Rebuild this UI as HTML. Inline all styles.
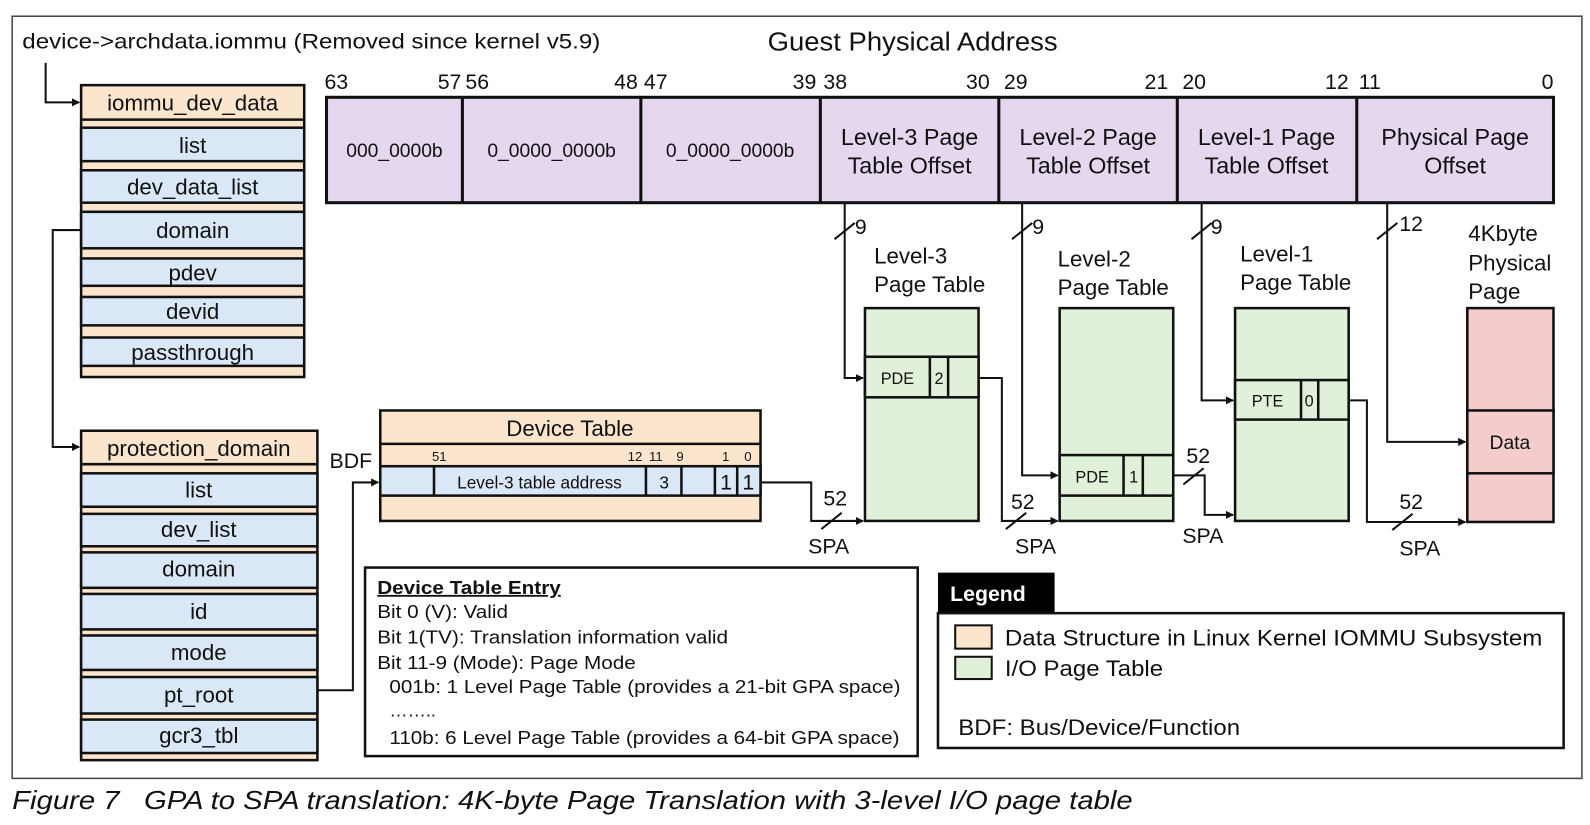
<!DOCTYPE html>
<html><head><meta charset="utf-8"><style>
html,body{margin:0;padding:0;background:#fff;}
svg{display:block;}
text{font-family:"Liberation Sans",Arial,sans-serif;fill:#111;}
</style></head><body>
<svg width="1590" height="825" viewBox="0 0 1568 814" preserveAspectRatio="none" xmlns="http://www.w3.org/2000/svg">
<defs>
<marker id="ar" markerWidth="8" markerHeight="8" refX="7" refY="4" orient="auto" markerUnits="userSpaceOnUse"><path d="M0,0 L8,4 L0,8 z" fill="#111"/></marker>
</defs>
<rect x="12" y="16" width="1548" height="752" fill="none" stroke="#444" stroke-width="1.5"/>
<text x="22" y="48" font-size="21" textLength="570" lengthAdjust="spacingAndGlyphs">device-&gt;archdata.iommu (Removed since kernel v5.9)</text>
<text x="757" y="50" font-size="25.5" textLength="286" lengthAdjust="spacingAndGlyphs">Guest Physical Address</text>

<g stroke="#111" stroke-width="2.5">
<rect x="80" y="84" width="220" height="288" fill="#fce5cd"/>
<rect x="80" y="126" width="220" height="33" fill="#d9e7f7"/>
<rect x="80" y="168" width="220" height="32" fill="#d9e7f7"/>
<rect x="80" y="209" width="220" height="36" fill="#d9e7f7"/>
<rect x="80" y="255" width="220" height="27" fill="#d9e7f7"/>
<rect x="80" y="293" width="220" height="28" fill="#d9e7f7"/>
<rect x="80" y="333" width="220" height="28" fill="#d9e7f7"/>
<line x1="80" y1="118" x2="300" y2="118"/>
<rect x="80" y="425" width="233" height="325" fill="#fce5cd"/>
<rect x="80" y="467" width="233" height="33" fill="#d9e7f7"/>
<rect x="80" y="507" width="233" height="32" fill="#d9e7f7"/>
<rect x="80" y="545" width="233" height="35" fill="#d9e7f7"/>
<rect x="80" y="586" width="233" height="35" fill="#d9e7f7"/>
<rect x="80" y="627" width="233" height="34" fill="#d9e7f7"/>
<rect x="80" y="668" width="233" height="36" fill="#d9e7f7"/>
<rect x="80" y="710" width="233" height="33" fill="#d9e7f7"/>
<line x1="80" y1="458" x2="313" y2="458"/>
<rect x="375" y="405" width="375" height="109" fill="#fce5cd"/>
<line x1="375" y1="438" x2="750" y2="438"/>
<rect x="375" y="460" width="375" height="29" fill="#d9e7f7"/>
<line x1="428" y1="460" x2="428" y2="489"/>
<line x1="637" y1="460" x2="637" y2="489"/>
<line x1="672" y1="460" x2="672" y2="489"/>
<line x1="705" y1="460" x2="705" y2="489"/>
<line x1="727" y1="460" x2="727" y2="489"/>
<rect x="322" y="96" width="1210" height="104" fill="#e4d7ee" stroke-width="3"/>
<line x1="456" y1="96" x2="456" y2="200" stroke-width="3"/>
<line x1="632" y1="96" x2="632" y2="200" stroke-width="3"/>
<line x1="809" y1="96" x2="809" y2="200" stroke-width="3"/>
<line x1="985" y1="96" x2="985" y2="200" stroke-width="3"/>
<line x1="1161" y1="96" x2="1161" y2="200" stroke-width="3"/>
<line x1="1338" y1="96" x2="1338" y2="200" stroke-width="3"/>
<rect x="853" y="304" width="112" height="210" fill="#e0f0d9"/>
<rect x="853" y="352" width="112" height="40" fill="#e0f0d9"/>
<line x1="917" y1="352" x2="917" y2="392"/><line x1="935" y1="352" x2="935" y2="392"/>
<rect x="1045" y="304" width="112" height="210" fill="#e0f0d9"/>
<rect x="1045" y="449" width="112" height="40" fill="#e0f0d9"/>
<line x1="1108" y1="449" x2="1108" y2="489"/><line x1="1127" y1="449" x2="1127" y2="489"/>
<rect x="1218" y="304" width="112" height="210" fill="#e0f0d9"/>
<rect x="1218" y="375" width="112" height="39" fill="#e0f0d9"/>
<line x1="1283" y1="375" x2="1283" y2="414"/><line x1="1300" y1="375" x2="1300" y2="414"/>
<rect x="1447" y="304" width="85" height="211" fill="#f4cccc"/>
<rect x="1447" y="405" width="85" height="62" fill="#f4cccc"/>
</g>

<g stroke="#111" stroke-width="2" fill="none">
<path d="M45,62 V101 H78" marker-end="url(#ar)"/>
<path d="M80,227 H52 V441 H78" marker-end="url(#ar)"/>
<path d="M313,681 H348 V476 H373" marker-end="url(#ar)"/>
<path d="M750,476 H800 V514 H851" marker-end="url(#ar)"/>
<path d="M833,200 V373 H851" marker-end="url(#ar)"/>
<path d="M965,373 H988 V514 H1043" marker-end="url(#ar)"/>
<path d="M1008,200 V469 H1043" marker-end="url(#ar)"/>
<path d="M1157,469 H1188 V508 H1216" marker-end="url(#ar)"/>
<path d="M1185,200 V395 H1216" marker-end="url(#ar)"/>
<path d="M1330,395 H1348 V515 H1445" marker-end="url(#ar)"/>
<path d="M1368,200 V436 H1445" marker-end="url(#ar)"/>
<line x1="823" y1="236" x2="843" y2="220"/>
<line x1="998" y1="236" x2="1018" y2="220"/>
<line x1="1175" y1="236" x2="1195" y2="220"/>
<line x1="1358" y1="236" x2="1378" y2="220"/>
<line x1="810" y1="522" x2="830" y2="506"/>
<line x1="992" y1="522" x2="1012" y2="506"/>
<line x1="1167" y1="478" x2="1187" y2="462"/>
<line x1="1373" y1="523" x2="1393" y2="507"/>
</g>

<g font-size="22" text-anchor="middle">
<text x="190" y="109">iommu_dev_data</text>
<text x="190" y="151">list</text>
<text x="190" y="192">dev_data_list</text>
<text x="190" y="235">domain</text>
<text x="190" y="277">pdev</text>
<text x="190" y="315">devid</text>
<text x="190" y="355">passthrough</text>
<text x="196" y="450">protection_domain</text>
<text x="196" y="491">list</text>
<text x="196" y="530">dev_list</text>
<text x="196" y="569">domain</text>
<text x="196" y="611">id</text>
<text x="196" y="651">mode</text>
<text x="196" y="693">pt_root</text>
<text x="196" y="733">gcr3_tbl</text>
<text x="562" y="430">Device Table</text>
</g>
<text x="325" y="462" font-size="21">BDF</text>
<g font-size="13">
<text x="426" y="455">51</text><text x="619" y="455">12</text><text x="640" y="455">11</text><text x="667" y="455">9</text><text x="712" y="455">1</text><text x="734" y="455">0</text>
</g>
<g font-size="17" text-anchor="middle">
<text x="532" y="482">Level-3 table address</text>
<text x="655" y="482">3</text>
</g>
<g font-size="21" text-anchor="middle"><text x="716" y="483">1</text><text x="738" y="483">1</text></g>

<g font-size="21">
<text x="320" y="88">63</text><text x="455" y="88" text-anchor="end">57</text><text x="459" y="88">56</text>
<text x="629" y="88" text-anchor="end">48</text><text x="635" y="88">47</text><text x="805" y="88" text-anchor="end">39</text>
<text x="812" y="88">38</text><text x="976" y="88" text-anchor="end">30</text><text x="990" y="88">29</text>
<text x="1152" y="88" text-anchor="end">21</text><text x="1166" y="88">20</text><text x="1330" y="88" text-anchor="end">12</text>
<text x="1340" y="88">11</text><text x="1532" y="88" text-anchor="end">0</text>
</g>
<g font-size="19" text-anchor="middle">
<text x="389" y="155">000_0000b</text><text x="544" y="155">0_0000_0000b</text><text x="720" y="155">0_0000_0000b</text>
</g>
<g font-size="23" text-anchor="middle">
<text x="897" y="143">Level-3 Page</text><text x="897" y="171">Table Offset</text>
<text x="1073" y="143">Level-2 Page</text><text x="1073" y="171">Table Offset</text>
<text x="1249" y="143">Level-1 Page</text><text x="1249" y="171">Table Offset</text>
<text x="1435" y="143">Physical Page</text><text x="1435" y="171">Offset</text>
</g>
<g font-size="21">
<text x="843" y="231">9</text><text x="1018" y="231">9</text><text x="1194" y="231">9</text><text x="1380" y="228">12</text>
<text x="812" y="499">52</text><text x="997" y="502">52</text><text x="1170" y="457">52</text><text x="1380" y="502">52</text>
<text x="797" y="546">SPA</text><text x="1001" y="546">SPA</text><text x="1166" y="536">SPA</text><text x="1380" y="548">SPA</text>
</g>
<g font-size="22">
<text x="862" y="260">Level-3</text><text x="862" y="288">Page Table</text>
<text x="1043" y="263">Level-2</text><text x="1043" y="291">Page Table</text>
<text x="1223" y="258">Level-1</text><text x="1223" y="286">Page Table</text>
<text x="1448" y="238">4Kbyte</text><text x="1448" y="267">Physical</text><text x="1448" y="295">Page</text>
</g>
<g font-size="16" text-anchor="middle">
<text x="885" y="379">PDE</text><text x="926" y="379">2</text>
<text x="1077" y="476">PDE</text><text x="1118" y="476">1</text>
<text x="1250" y="401">PTE</text><text x="1291" y="401">0</text>
</g>
<text x="1489" y="443" font-size="19" text-anchor="middle">Data</text>

<rect x="360" y="560" width="545" height="186" fill="#fff" stroke="#111" stroke-width="2.5"/>
<text x="372" y="586" font-size="18" font-weight="bold" text-decoration="underline" textLength="181" lengthAdjust="spacingAndGlyphs">Device Table Entry</text>
<g font-size="18">
<text x="372" y="610" textLength="129" lengthAdjust="spacingAndGlyphs">Bit 0 (V): Valid</text>
<text x="372" y="635" textLength="346" lengthAdjust="spacingAndGlyphs">Bit 1(TV): Translation information valid</text>
<text x="372" y="660" textLength="255" lengthAdjust="spacingAndGlyphs">Bit 11-9 (Mode): Page Mode</text>
<text x="384" y="684" textLength="504" lengthAdjust="spacingAndGlyphs">001b: 1 Level Page Table (provides a 21-bit GPA space)</text>
<text x="384" y="707">……..</text>
<text x="384" y="734" textLength="503" lengthAdjust="spacingAndGlyphs">110b: 6 Level Page Table (provides a 64-bit GPA space)</text>
</g>

<rect x="925" y="565" width="115" height="40" fill="#000"/>
<text x="937" y="593" font-size="21" font-weight="bold" style="fill:#fff">Legend</text>
<rect x="925" y="605" width="617" height="133" fill="none" stroke="#111" stroke-width="2.5"/>
<rect x="942" y="617" width="36" height="23" fill="#fce5cd" stroke="#111" stroke-width="2"/>
<rect x="942" y="648" width="36" height="22" fill="#e0f0d9" stroke="#111" stroke-width="2"/>
<g font-size="22">
<text x="991" y="637" textLength="530" lengthAdjust="spacingAndGlyphs">Data Structure in Linux Kernel IOMMU Subsystem</text>
<text x="991" y="667" textLength="156" lengthAdjust="spacingAndGlyphs">I/O Page Table</text>
<text x="945" y="725" textLength="278" lengthAdjust="spacingAndGlyphs">BDF: Bus/Device/Function</text>
</g>
<text x="12" y="798" font-size="26" font-style="italic" xml:space="preserve" textLength="1105" lengthAdjust="spacingAndGlyphs">Figure 7   GPA to SPA translation: 4K-byte Page Translation with 3-level I/O page table</text>
</svg>
</body></html>
